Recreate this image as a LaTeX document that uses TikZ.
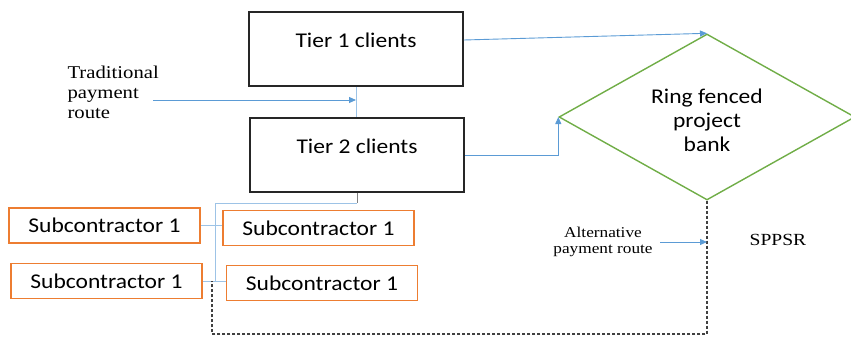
\documentclass[tikz,border=0pt]{standalone}
\usepackage{fontspec}
\setmainfont{Liberation Serif}[FakeStretch=1.15]
\setsansfont{Carlito}[FakeStretch=1.12]
\usepackage{xcolor}
\usetikzlibrary{shapes.geometric, positioning, arrows.meta, calc}

\definecolor{routeblue}{HTML}{5B9BD5}
\definecolor{bankgreen}{HTML}{70AD47}
\definecolor{suborange}{HTML}{ED7D31}
\definecolor{dashgray}{HTML}{404040}

\begin{document}
\begin{tikzpicture}[x=1pt, y=-1pt,
        tierbox/.style={draw=black!85, line width=1.6pt, minimum width=214pt, minimum height=74pt,
            font=\sffamily\fontsize{21}{24}\selectfont, text height=10pt, text depth=13pt},
        subbox/.style={draw=suborange, line width=1.6pt, minimum width=191pt, minimum height=35pt,
            font=\sffamily\fontsize{21}{24}\selectfont},
        bank/.style={diamond, draw=bankgreen, line width=1.4pt, minimum width=296pt, minimum height=166pt},
        flow/.style={routeblue, line width=0.9pt, -{Triangle[length=7pt, width=6pt]}},
        link/.style={routeblue!60, line width=0.9pt},
        altroute/.style={dashgray, line width=1.1pt, dash pattern=on 3pt off 2pt},
        note/.style={font=\fontsize{18}{20}\selectfont, align=left}]
        \useasboundingbox (0,0) rectangle (851,337);

        % Clients
        \node[tierbox] (tier1) at (356,49) {Tier 1 clients};
        \node[tierbox] (tier2) at (357,155) {Tier 2 clients};
        \draw[link] (tier1.south) -- (tier1.south |- tier2.north);

        % Ring fenced project bank
        \node[bank] (bank) at (707,117) {};
        \node[align=center, font=\sffamily\fontsize{21}{24}\selectfont] (banktext) at (707,120) {Ring fenced\\project\\bank};
        \draw[flow] ([yshift=9pt]tier1.east) -- (bank.north);
        \draw[flow] (tier2.east) -| (bank.west);

        % Traditional payment route
        \node[note, anchor=west] (trad) at (64,92) {Traditional\\payment\\route};
        \coordinate (tradstart) at (153,100);
        \draw[flow] (tradstart) -- (tradstart -| tier1.south);

        % Subcontractors
        \node[subbox] (sub1) at (104.5,225.5) {Subcontractor 1};
        \node[subbox] (sub2) at (318.5,228) {Subcontractor 1};
        \node[subbox] (sub3) at (106.5,281) {Subcontractor 1};
        \node[subbox] (sub4) at (322,283) {Subcontractor 1};
        \coordinate (bus) at (215,203);
        \draw[gray, line width=0.8pt] (tier2.south) -- (tier2.south |- bus);
        \draw[link] (tier2.south |- bus) -- (bus) -- (bus |- sub3.east);
        \draw[link] (sub1.east) -- (sub1.east -| sub2.west);
        \draw[link] (sub3.east) -- (sub3.east -| sub4.west);

        % Alternative payment route (SPPSR)
        \coordinate (dashcorner) at (212,334);
        \draw[altroute] (bank.south) |- (dashcorner) -- (dashcorner |- sub3.east);
        \node[font=\fontsize{15}{16}\selectfont, align=center] (alt) at (603,242) {Alternative\\payment route};
        \coordinate (altstart) at (660,242);
        \draw[flow] (altstart) -- (altstart -| bank.south);
        \node[font=\fontsize{17}{20}\selectfont] (sppsr) at (778,240) {SPPSR};
    \end{tikzpicture}
\end{document}
